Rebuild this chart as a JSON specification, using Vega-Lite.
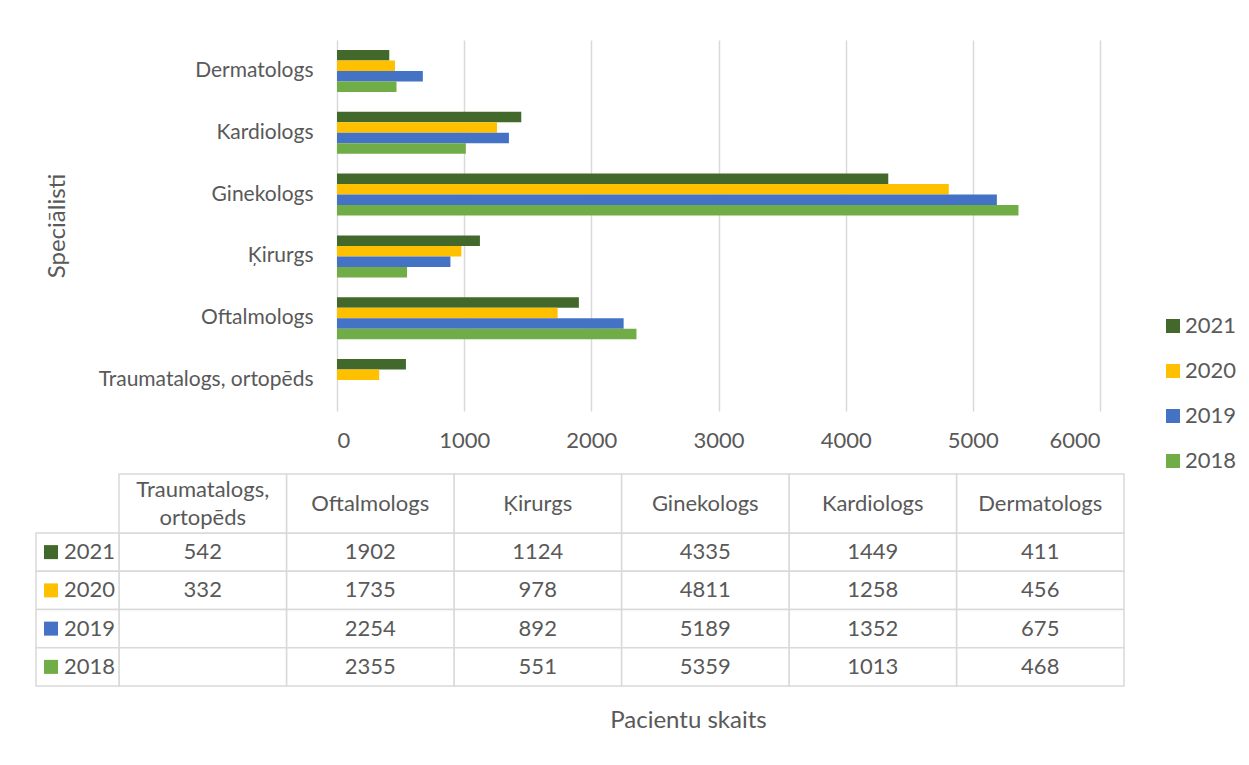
{
  "$schema": "https://vega.github.io/schema/vega-lite/v6.json",
  "padding": {"left": 35, "top": 40, "right": 5, "bottom": 5},
  "background": "white",
  "config": {
    "font": "Lato",
    "view": {"stroke": null},
    "axis": {"labelColor": "#595959", "titleColor": "#595959", "labelFont": "Lato", "titleFont": "Lato", "labelFontSize": 22, "titleFontSize": 24, "titleFontWeight": "normal", "labelLimit": 0},
    "legend": {"labelColor": "#595959", "labelFont": "Lato", "padding": 0},
    "text": {"color": "#595959", "font": "Lato", "fontSize": 22}
  },
  "datasets": {
    "counts": [
      {"specialist": "Dermatologs", "year": "2021", "value": 411},
      {"specialist": "Dermatologs", "year": "2020", "value": 456},
      {"specialist": "Dermatologs", "year": "2019", "value": 675},
      {"specialist": "Dermatologs", "year": "2018", "value": 468},
      {"specialist": "Kardiologs", "year": "2021", "value": 1449},
      {"specialist": "Kardiologs", "year": "2020", "value": 1258},
      {"specialist": "Kardiologs", "year": "2019", "value": 1352},
      {"specialist": "Kardiologs", "year": "2018", "value": 1013},
      {"specialist": "Ginekologs", "year": "2021", "value": 4335},
      {"specialist": "Ginekologs", "year": "2020", "value": 4811},
      {"specialist": "Ginekologs", "year": "2019", "value": 5189},
      {"specialist": "Ginekologs", "year": "2018", "value": 5359},
      {"specialist": "Ķirurgs", "year": "2021", "value": 1124},
      {"specialist": "Ķirurgs", "year": "2020", "value": 978},
      {"specialist": "Ķirurgs", "year": "2019", "value": 892},
      {"specialist": "Ķirurgs", "year": "2018", "value": 551},
      {"specialist": "Oftalmologs", "year": "2021", "value": 1902},
      {"specialist": "Oftalmologs", "year": "2020", "value": 1735},
      {"specialist": "Oftalmologs", "year": "2019", "value": 2254},
      {"specialist": "Oftalmologs", "year": "2018", "value": 2355},
      {"specialist": "Traumatalogs, ortopēds", "year": "2021", "value": 542},
      {"specialist": "Traumatalogs, ortopēds", "year": "2020", "value": 332},
      {"specialist": "Traumatalogs, ortopēds", "year": "2019", "value": null},
      {"specialist": "Traumatalogs, ortopēds", "year": "2018", "value": null}
    ]
  },
  "spacing": 22,
  "vconcat": [
    {
      "width": 763,
      "height": 371,
      "data": {"name": "counts"},
      "mark": {"type": "bar"},
      "encoding": {
        "y": {
          "field": "specialist", "type": "nominal",
          "sort": ["Dermatologs", "Kardiologs", "Ginekologs", "Ķirurgs", "Oftalmologs", "Traumatalogs, ortopēds"],
          "scale": {"paddingInner": 0.32, "paddingOuter": 0.16},
          "axis": {"title": "Speciālisti", "domain": false, "ticks": false, "labelPadding": 24, "labelFontSize": 21, "titlePadding": 68}
        },
        "yOffset": {
          "field": "year", "type": "nominal",
          "sort": ["2021", "2020", "2019", "2018"],
          "scale": {"paddingInner": 0, "paddingOuter": 0}
        },
        "x": {
          "field": "value", "type": "quantitative",
          "scale": {"domain": [0, 6000], "nice": false},
          "axis": {"values": [0, 1000, 2000, 3000, 4000, 5000, 6000], "format": "d", "title": null, "domain": false, "ticks": false, "grid": true, "gridColor": "#d9d9d9", "gridWidth": 1.5, "labelPadding": 19}
        },
        "color": {
          "field": "year", "type": "nominal",
          "scale": {"domain": ["2021", "2020", "2019", "2018"], "range": ["#43682b", "#ffc000", "#4472c4", "#70ad47"]},
          "legend": {"orient": "none", "legendX": 825, "legendY": 275, "title": null, "symbolType": "square", "symbolSize": 196, "symbolStrokeWidth": 0, "symbolOpacity": 1, "labelFontSize": 22, "rowPadding": 23, "labelOffset": 1}
        }
      }
    },
    {
      "width": 763,
      "height": 153,
      "data": {"name": "counts"},
      "layer": [
        {
          "mark": {"type": "rect", "fill": "white", "stroke": "#d9d9d9", "strokeWidth": 1.5},
          "encoding": {
            "x": {
              "field": "specialist", "type": "nominal",
              "scale": {"domain": ["Traumatalogs, ortopēds", "Oftalmologs", "Ķirurgs", "Ginekologs", "Kardiologs", "Dermatologs"], "range": [-218, 787], "paddingInner": 0, "paddingOuter": 0},
              "axis": {"title": "Pacientu skaits", "labels": false, "ticks": false, "domain": false, "titlePadding": 22, "titleX": 351}
            },
            "y": {
              "field": "year", "type": "nominal",
              "scale": {"domain": ["2021", "2020", "2019", "2018"], "paddingInner": 0, "paddingOuter": 0},
              "axis": null
            }
          }
        },
        {
          "transform": [{"filter": "isValid(datum.value)"}],
          "mark": {"type": "text"},
          "encoding": {
            "x": {
              "field": "specialist", "type": "nominal",
              "scale": {"domain": ["Traumatalogs, ortopēds", "Oftalmologs", "Ķirurgs", "Ginekologs", "Kardiologs", "Dermatologs"], "range": [-218, 787], "paddingInner": 0, "paddingOuter": 0},
              "axis": null
            },
            "y": {
              "field": "year", "type": "nominal",
              "scale": {"domain": ["2021", "2020", "2019", "2018"], "paddingInner": 0, "paddingOuter": 0},
              "axis": null
            },
            "text": {"field": "value", "type": "quantitative", "format": "d"}
          }
        },
        {
          "transform": [{"aggregate": [{"op": "count", "as": "n"}], "groupby": ["specialist"]}],
          "mark": {"type": "rect", "fill": "white", "stroke": "#d9d9d9", "strokeWidth": 1.5},
          "encoding": {
            "x": {
              "field": "specialist", "type": "nominal",
              "scale": {"domain": ["Traumatalogs, ortopēds", "Oftalmologs", "Ķirurgs", "Ginekologs", "Kardiologs", "Dermatologs"], "range": [-218, 787], "paddingInner": 0, "paddingOuter": 0},
              "axis": null
            },
            "y": {
              "datum": "header", "type": "nominal",
              "scale": {"domain": ["header"], "range": [-59, 0], "paddingInner": 0, "paddingOuter": 0},
              "axis": null
            }
          }
        },
        {
          "transform": [
            {"aggregate": [{"op": "count", "as": "n"}], "groupby": ["specialist"]},
            {"filter": "datum.specialist !== 'Traumatalogs, ortopēds'"}
          ],
          "mark": {"type": "text"},
          "encoding": {
            "x": {
              "field": "specialist", "type": "nominal",
              "scale": {"domain": ["Traumatalogs, ortopēds", "Oftalmologs", "Ķirurgs", "Ginekologs", "Kardiologs", "Dermatologs"], "range": [-218, 787], "paddingInner": 0, "paddingOuter": 0},
              "axis": null
            },
            "y": {
              "datum": "header", "type": "nominal",
              "scale": {"domain": ["header"], "range": [-59, 0], "paddingInner": 0, "paddingOuter": 0},
              "axis": null
            },
            "text": {"field": "specialist", "type": "nominal"}
          }
        },
        {
          "transform": [
            {"aggregate": [{"op": "count", "as": "n"}], "groupby": ["specialist"]},
            {"filter": "datum.specialist === 'Traumatalogs, ortopēds'"}
          ],
          "mark": {"type": "text", "lineBreak": " ", "lineHeight": 28, "dy": -14},
          "encoding": {
            "x": {
              "field": "specialist", "type": "nominal",
              "scale": {"domain": ["Traumatalogs, ortopēds", "Oftalmologs", "Ķirurgs", "Ginekologs", "Kardiologs", "Dermatologs"], "range": [-218, 787], "paddingInner": 0, "paddingOuter": 0},
              "axis": null
            },
            "y": {
              "datum": "header", "type": "nominal",
              "scale": {"domain": ["header"], "range": [-59, 0], "paddingInner": 0, "paddingOuter": 0},
              "axis": null
            },
            "text": {"field": "specialist", "type": "nominal"}
          }
        },
        {
          "transform": [{"aggregate": [{"op": "count", "as": "n"}], "groupby": ["year"]}],
          "mark": {"type": "rect", "fill": "white", "stroke": "#d9d9d9", "strokeWidth": 1.5},
          "encoding": {
            "x": {
              "datum": "key", "type": "nominal",
              "scale": {"domain": ["key"], "range": [-301, -218], "paddingInner": 0, "paddingOuter": 0},
              "axis": null
            },
            "y": {
              "field": "year", "type": "nominal",
              "scale": {"domain": ["2021", "2020", "2019", "2018"], "paddingInner": 0, "paddingOuter": 0},
              "axis": null
            }
          }
        },
        {
          "transform": [{"aggregate": [{"op": "count", "as": "n"}], "groupby": ["year"]}],
          "mark": {"type": "point", "shape": "square", "size": 196, "filled": true, "opacity": 1, "xOffset": -26.5},
          "encoding": {
            "x": {
              "datum": "key", "type": "nominal",
              "scale": {"domain": ["key"], "range": [-301, -218], "paddingInner": 0, "paddingOuter": 0},
              "axis": null
            },
            "y": {
              "field": "year", "type": "nominal",
              "scale": {"domain": ["2021", "2020", "2019", "2018"], "paddingInner": 0, "paddingOuter": 0},
              "axis": null
            },
            "color": {"field": "year", "type": "nominal"}
          }
        },
        {
          "transform": [{"aggregate": [{"op": "count", "as": "n"}], "groupby": ["year"]}],
          "mark": {"type": "text", "align": "left", "dx": -13.5},
          "encoding": {
            "x": {
              "datum": "key", "type": "nominal",
              "scale": {"domain": ["key"], "range": [-301, -218], "paddingInner": 0, "paddingOuter": 0},
              "axis": null
            },
            "y": {
              "field": "year", "type": "nominal",
              "scale": {"domain": ["2021", "2020", "2019", "2018"], "paddingInner": 0, "paddingOuter": 0},
              "axis": null
            },
            "text": {"field": "year", "type": "nominal"}
          }
        }
      ],
      "resolve": {"scale": {"x": "independent", "y": "independent"}}
    }
  ]
}
